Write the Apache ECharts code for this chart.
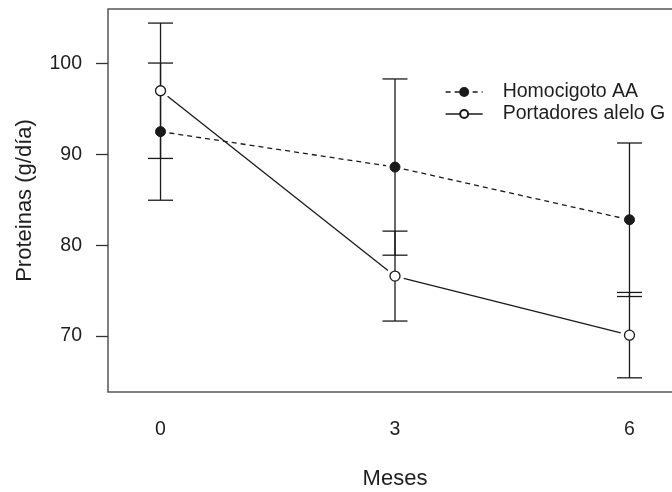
<!DOCTYPE html>
<html>
<head>
<meta charset="utf-8">
<script src="https://cdn.jsdelivr.net/npm/echarts@6/dist/echarts.min.js"></script>
<style>
  html, body { margin: 0; padding: 0; background: #fff; }
  #chart { width: 672px; height: 492px; }
</style>
</head>
<body>
<div id="chart"></div>
<script>
// Months of follow-up
const meses = [0, 3, 6];
// Homocigoto AA: mean protein intake and half-width of its error bar
const aaMedia = [92.5, 88.6, 82.8];
const aaError = [7.55, 9.7, 8.45];
// Portadores alelo G
const gMedia = [97.0, 76.6, 70.1];
const gError = [7.45, 4.95, 4.7];
// Axis labels
const yTicks = [70, 80, 90, 100];
const xTicks = [0, 3, 6];

const INK = '#1a1a1a';
const TEXT = '#1e1e1e';
const FONT = 'Liberation Sans, Arial, sans-serif';

function barData(mean, err) {
  return meses.map((m, i) => [m, mean[i] - err[i], mean[i] + err[i]]);
}
function segData(mean) {
  const out = [];
  for (let i = 0; i < meses.length - 1; i++) out.push([meses[i], mean[i], meses[i + 1], mean[i + 1]]);
  return out;
}

// vertical bar with end caps
function renderBar(params, api) {
  const lo = api.coord([api.value(0), api.value(1)]);
  const hi = api.coord([api.value(0), api.value(2)]);
  const half = 12.5;
  const style = { stroke: INK, lineWidth: 1.3, fill: null };
  return {
    type: 'group',
    children: [
      { type: 'line', shape: { x1: lo[0], y1: lo[1], x2: hi[0], y2: hi[1] }, style },
      { type: 'line', shape: { x1: lo[0] - half, y1: lo[1], x2: lo[0] + half, y2: lo[1] }, style },
      { type: 'line', shape: { x1: hi[0] - half, y1: hi[1], x2: hi[0] + half, y2: hi[1] }, style }
    ]
  };
}

// connecting segment that stops short of both markers
function makeSegRenderer(dashed) {
  return function (params, api) {
    const a = api.coord([api.value(0), api.value(1)]);
    const b = api.coord([api.value(2), api.value(3)]);
    const dx = b[0] - a[0], dy = b[1] - a[1];
    const len = Math.sqrt(dx * dx + dy * dy);
    const gap = 9;
    const ux = dx / len, uy = dy / len;
    return {
      type: 'line',
      shape: { x1: a[0] + ux * gap, y1: a[1] + uy * gap, x2: b[0] - ux * gap, y2: b[1] - uy * gap },
      style: { stroke: INK, lineWidth: 1.3, lineDash: dashed ? [5, 4] : null }
    };
  };
}

const chart = echarts.init(document.getElementById('chart'), null, { renderer: 'canvas' });
chart.setOption({
  animation: false,
  backgroundColor: '#fff',
  textStyle: { fontFamily: FONT },
  grid: {
    left: 108, right: -10, top: 9, bottom: 100,
    outerBoundsMode: 'none', containLabel: false,
    show: true, borderColor: '#555', borderWidth: 1.5, backgroundColor: 'transparent'
  },
  xAxis: {
    type: 'value', min: -0.672, max: 6.672,
    splitLine: { show: false },
    axisLine: { show: false, onZero: false },
    axisTick: { show: false },
    axisLabel: { customValues: xTicks, margin: 28, color: TEXT, fontSize: 19.5, fontFamily: FONT },
    name: 'Meses', nameLocation: 'middle', nameGap: 76,
    nameTextStyle: { color: TEXT, fontSize: 22, fontFamily: FONT }
  },
  yAxis: {
    type: 'value', min: 63.84, max: 106.0,
    splitLine: { show: false },
    axisLine: { show: false, onZero: false },
    axisTick: { show: true, customValues: yTicks, length: 12, lineStyle: { color: '#333', width: 1.3 } },
    axisLabel: { customValues: yTicks, margin: 26, color: TEXT, fontSize: 19.5, fontFamily: FONT },
    name: 'Proteinas (g/día)', nameLocation: 'middle', nameGap: 72, nameRotate: 90,
    nameTextStyle: { color: TEXT, fontSize: 22, fontFamily: FONT }
  },
  legend: {
    orient: 'vertical', left: 445, top: 82, padding: 0,
    itemWidth: 37, itemHeight: 10, itemGap: 2,
    textStyle: { color: TEXT, fontSize: 19.5, fontFamily: FONT, padding: [0, 0, 0, 15] },
    data: [
      { name: 'Homocigoto AA', lineStyle: { opacity: 1, type: [5, 4], color: INK, width: 1.3 } },
      { name: 'Portadores alelo G', lineStyle: { opacity: 1, type: 'solid', color: INK, width: 1.3 } }
    ]
  },
  series: [
    { type: 'custom', name: 'barAA', renderItem: renderBar, data: barData(aaMedia, aaError), z: 2, silent: true },
    { type: 'custom', name: 'barG', renderItem: renderBar, data: barData(gMedia, gError), z: 2, silent: true },
    { type: 'custom', name: 'segAA', renderItem: makeSegRenderer(true), data: segData(aaMedia), z: 2, silent: true },
    { type: 'custom', name: 'segG', renderItem: makeSegRenderer(false), data: segData(gMedia), z: 2, silent: true },
    {
      type: 'line', name: 'Homocigoto AA', z: 5,
      data: meses.map((m, i) => [m, aaMedia[i]]),
      symbol: 'circle', symbolSize: 10,
      itemStyle: { color: INK, borderColor: INK, borderWidth: 1 },
      lineStyle: { opacity: 0, type: [5, 4], color: INK, width: 1.3 }
    },
    {
      type: 'line', name: 'Portadores alelo G', z: 5,
      data: meses.map((m, i) => [m, gMedia[i]]),
      symbol: 'circle', symbolSize: 10,
      itemStyle: { color: '#fff', borderColor: INK, borderWidth: 1.3 },
      lineStyle: { opacity: 0, color: INK, width: 1.3 }
    }
  ]
});
</script>
</body>
</html>
